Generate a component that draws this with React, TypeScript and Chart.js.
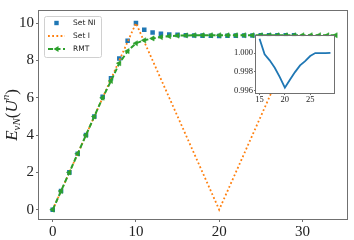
import React, { useEffect, useRef } from 'react';
import { Chart, registerables } from 'chart.js';
Chart.register(...registerables);

const xNI = [0,1,2,3,4,5,6,7,8,9,10,11,12,13,14,15,16,17,18,19,20,21,22,23,24,25,26,27,28,29];
const setNI = [0,1,2,3,4,5,6.05,7.05,8.1,9.05,10.0,9.65,9.5,9.43,9.39,9.37,9.35,9.34,9.33,9.32,9.31,9.32,9.33,9.34,9.34,9.35,9.35,9.35,9.35,9.35];
const xI = [0,1,2,3,4,5,6,7,8,9,10,11,12,13,14,15,16,17,18,19,20,21,22,23,24,25,26,27,28,29];
const setI = [0,1,2,3,4,5,6,7,8,9,10,9,8,7,6,5,4,3,2,1,0,1,2,3,4,5,6,7,8,9];
const xRMT = [0,1,2,3,4,5,6,7,8,9,10,11,12,13,14,15,16,17,18,19,20,21,22,23,24,25,26,27,28,29,30,31,32,33,34];
const setRMT = [0,1,2,3,4,5,6,6.9,7.85,8.5,8.92,9.08,9.18,9.25,9.3,9.33,9.34,9.35,9.35,9.35,9.35,9.35,9.35,9.35,9.35,9.35,9.35,9.35,9.35,9.35,9.35,9.35,9.35,9.35,9.35];
const insetX = [15,16,17,18,19,20,21,22,23,24,25,26,27,28,29];
const insetY = [1.00154,0.99986,0.99922,0.99843,0.99743,0.99629,0.99715,0.99796,0.99868,0.99914,0.99968,1.0,1.0,1.0,1.00003];
const mainXTicks = [0,10,20,30];
const mainYTicks = [0,2,4,6,8,10];
const insetXTicks = [15,20,25];
const insetYTicks = [0.996,0.998,1.0];
const legendLabels = ['Set NI','Set I','RMT'];

const BLUE = '#1f77b4';
const ORANGE = '#ff7f0e';
const GREEN = '#2ca02c';
const AXIS = '#707070';
const SERIF = '"Liberation Serif", "DejaVu Serif", serif';

const pts = (xs: number[], ys: number[]) => xs.map((x, i) => ({ x, y: ys[i] }));

const framePlugin = {
  id: 'frame',
  afterDraw(chart: any) {
    const { ctx, chartArea: a } = chart;
    ctx.save();
    ctx.strokeStyle = AXIS;
    ctx.lineWidth = 1;
    const l = Math.round(a.left) - 0.5, t = Math.round(a.top) - 0.5;
    const r = Math.round(a.right) + 0.5, b = Math.round(a.bottom) + 0.5;
    ctx.strokeRect(l, t, r - l, b - t);
    ctx.restore();
  },
};

const whiteFace = {
  id: 'whiteFace',
  beforeDraw(chart: any) {
    const { ctx, chartArea: a } = chart;
    ctx.save();
    ctx.fillStyle = '#ffffff';
    ctx.fillRect(a.left, a.top, a.right - a.left, a.bottom - a.top);
    ctx.restore();
  },
};

const yLabelPlugin = {
  id: 'ylabel',
  afterDraw(chart: any) {
    const { ctx, chartArea: a } = chart;
    const parts: [string, string, number][] = [
      ['E', 'italic 17px ' + SERIF, 0],
      ['\u03bdN', 'italic 11px ' + SERIF, 4],
      ['(', '17px ' + SERIF, 0],
      ['U', 'italic 17px ' + SERIF, 0],
      ['n', 'italic 11px ' + SERIF, -7],
      [')', '17px ' + SERIF, 0],
    ];
    ctx.save();
    let total = 0;
    const widths = parts.map(([t, f]) => { ctx.font = f; const w = ctx.measureText(t).width; total += w; return w; });
    ctx.translate(13, (a.top + a.bottom) / 2);
    ctx.rotate(-Math.PI / 2);
    ctx.fillStyle = '#222';
    ctx.textBaseline = 'middle';
    ctx.textAlign = 'left';
    let x = -total / 2;
    parts.forEach(([t, f, dy], i) => { ctx.font = f; ctx.fillText(t, x, dy); x += widths[i]; });
    ctx.restore();
  },
};

const legendPlugin = {
  id: 'customLegend',
  afterDatasetsDraw(chart: any) {
    const { ctx, chartArea: a } = chart;
    const bx = a.left + 5, by = a.top + 5, bw = 57, bh = 41;
    ctx.save();
    ctx.fillStyle = 'rgba(255,255,255,0.85)';
    ctx.strokeStyle = '#d0d0d0';
    ctx.lineWidth = 1;
    ctx.beginPath();
    ctx.roundRect(bx + 0.5, by + 0.5, bw, bh, 2);
    ctx.fill();
    ctx.stroke();
    const rows = [by + 7, by + 20, by + 33];
    const x0 = bx + 4, x1 = bx + 21, xm = (x0 + x1) / 2;
    // Set NI
    ctx.fillStyle = BLUE;
    ctx.fillRect(xm - 2.2, rows[0] - 2.2, 4.4, 4.4);
    // Set I
    ctx.strokeStyle = ORANGE;
    ctx.lineWidth = 1.8;
    ctx.setLineDash([1.8, 2.4]);
    ctx.beginPath(); ctx.moveTo(x0, rows[1]); ctx.lineTo(x1, rows[1]); ctx.stroke();
    // RMT
    ctx.strokeStyle = GREEN;
    ctx.setLineDash([5, 2.5]);
    ctx.lineWidth = 2;
    ctx.beginPath(); ctx.moveTo(x0, rows[2]); ctx.lineTo(x1, rows[2]); ctx.stroke();
    ctx.setLineDash([]);
    ctx.fillStyle = GREEN;
    ctx.beginPath();
    ctx.moveTo(xm - 3, rows[2]); ctx.lineTo(xm + 2, rows[2] - 3); ctx.lineTo(xm + 2, rows[2] + 3); ctx.closePath();
    ctx.fill();
    ctx.fillStyle = '#222';
    ctx.font = '7.5px "DejaVu Sans", sans-serif';
    ctx.textBaseline = 'middle';
    ctx.textAlign = 'left';
    legendLabels.forEach((t, i) => ctx.fillText(t, bx + 29, rows[i] + 0.5));
    ctx.restore();
  },
};

export default function App() {
  const mainRef = useRef<HTMLCanvasElement>(null);
  const insetRef = useRef<HTMLCanvasElement>(null);

  useEffect(() => {
    const main = new Chart(mainRef.current as HTMLCanvasElement, {
      type: 'scatter',
      data: {
        datasets: [
          {
            label: 'RMT', data: pts(xRMT, setRMT), showLine: true,
            borderColor: GREEN, backgroundColor: GREEN, borderWidth: 2, borderDash: [5, 2.5],
            pointStyle: 'triangle', rotation: -90, pointRadius: 3, pointBorderWidth: 0.5,
            pointBorderColor: GREEN, pointBackgroundColor: GREEN, order: 0,
          } as any,
          {
            label: 'Set I', data: pts(xI, setI), showLine: true,
            borderColor: ORANGE, backgroundColor: ORANGE, borderWidth: 1.8, borderDash: [1.8, 2.4],
            pointRadius: 0, order: 1,
          } as any,
          {
            label: 'Set NI', data: pts(xNI, setNI), showLine: false,
            pointStyle: 'rect', pointRadius: 3.2, pointBorderWidth: 0,
            backgroundColor: BLUE, borderColor: BLUE, pointBackgroundColor: BLUE, order: 2,
          } as any,
        ],
      },
      options: {
        animation: false,
        responsive: false,
        events: [],
        layout: { padding: { left: 0, top: 4, right: 7.5, bottom: 0 } },
        plugins: { legend: { display: false }, tooltip: { enabled: false } },
        scales: {
          x: {
            type: 'linear', min: -1.65, max: 35.3,
            afterFit(s: any) { s.height = 21; },
            afterBuildTicks(s: any) { s.ticks = mainXTicks.map((v) => ({ value: v })); },
            grid: { drawOnChartArea: false, tickLength: 3, color: AXIS },
            border: { display: false },
            ticks: { font: { family: SERIF, size: 15 }, color: '#222', padding: 1, maxRotation: 0 },
          },
          y: {
            type: 'linear', min: -0.5, max: 10.65,
            afterFit(s: any) { s.width = 39; },
            afterBuildTicks(s: any) { s.ticks = mainYTicks.map((v) => ({ value: v })); },
            grid: { drawOnChartArea: false, tickLength: 3, color: AXIS },
            border: { display: false },
            ticks: { font: { family: SERIF, size: 15 }, color: '#222', padding: 2 },
          },
        },
      } as any,
      plugins: [framePlugin, yLabelPlugin, legendPlugin],
    });

    const inset = new Chart(insetRef.current as HTMLCanvasElement, {
      type: 'scatter',
      data: {
        datasets: [
          {
            label: 'inset', data: pts(insetX, insetY), showLine: true,
            borderColor: BLUE, borderWidth: 1.8, pointRadius: 0,
          } as any,
        ],
      },
      options: {
        animation: false,
        responsive: false,
        events: [],
        layout: { padding: { left: 0, top: 6, right: 11, bottom: 0 } },
        plugins: { legend: { display: false }, tooltip: { enabled: false } },
        scales: {
          x: {
            type: 'linear', min: 14.3, max: 29.7,
            afterFit(s: any) { s.height = 12; },
            afterBuildTicks(s: any) { s.ticks = insetXTicks.map((v) => ({ value: v })); },
            grid: { drawOnChartArea: false, tickLength: 2, color: AXIS },
            border: { display: false },
            ticks: { font: { family: SERIF, size: 8.5 }, color: '#222', padding: 0, maxRotation: 0 },
          },
          y: {
            type: 'linear', min: 0.99572, max: 1.00182,
            afterFit(s: any) { s.width = 36; },
            afterBuildTicks(s: any) { s.ticks = insetYTicks.map((v) => ({ value: v })); },
            grid: { drawOnChartArea: false, tickLength: 2, color: AXIS },
            border: { display: false },
            ticks: {
              font: { family: SERIF, size: 8.5 }, color: '#222', padding: 1,
              callback: (v: any) => Number(v).toFixed(3),
            },
          },
        },
      } as any,
      plugins: [whiteFace, framePlugin],
    });

    return () => { main.destroy(); inset.destroy(); };
  }, []);

  return (
    <div style={{ position: 'absolute', left: 0, top: 0, width: 354, height: 240, background: '#fff' }}>
      <canvas ref={mainRef} width={354} height={240} style={{ position: 'absolute', left: 0, top: 0 }} />
      <canvas ref={insetRef} width={125} height={75} style={{ position: 'absolute', left: 220, top: 30 }} />
    </div>
  );
}
